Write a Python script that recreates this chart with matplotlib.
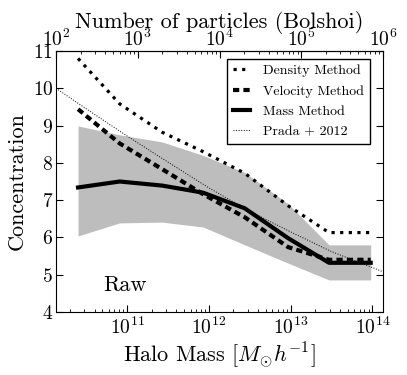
import numpy as np
import matplotlib
matplotlib.use("Agg")
import matplotlib.pyplot as plt

plt.rcParams['font.family'] = 'serif'
plt.rcParams['font.serif'] = ['cmr10', 'DejaVu Serif']
plt.rcParams['mathtext.fontset'] = 'cm'
plt.rcParams['axes.formatter.use_mathtext'] = True

# halo mass bins (log10 M / Msun h^-1)
logM = [10.40, 10.91, 11.43, 11.93, 12.44, 12.97, 13.47, 13.98]

c_density = [10.80, 9.58, 8.82, 8.30, 7.72, 6.85, 6.13, 6.13]
c_velocity = [9.44, 8.52, 7.83, 7.16, 6.54, 5.74, 5.40, 5.40]
c_mass = [7.34, 7.50, 7.39, 7.20, 6.78, 5.98, 5.32, 5.32]
c_mass_hi = [8.99, 8.75, 8.56, 8.20, 7.74, 6.90, 5.80, 5.80]
c_mass_lo = [6.04, 6.39, 6.41, 6.28, 5.80, 5.31, 4.86, 4.86]

# Prada et al. 2012 relation
logM_prada = [10.13, 10.5, 11.0, 11.5, 12.0, 12.5, 13.0, 13.5, 14.13]
c_prada = [10.0, 9.45, 8.72, 8.02, 7.33, 6.70, 6.15, 5.62, 5.08]

m_part = 1.35e8  # Bolshoi particle mass

M = 10**np.array(logM)
Mp = 10**np.array(logM_prada)

fig = plt.figure(figsize=(4.07, 3.75), dpi=100)
ax = fig.add_axes([56/407, 1-312/375, 327/407, 261/375])

ax.fill_between(M, c_mass_lo, c_mass_hi, color='#bdbdbd', lw=0)
ax.plot(M, c_density, color='k', lw=2.3, ls=(0, (1.0, 1.7)), label='Density Method')
ax.plot(M, c_velocity, color='k', lw=3, ls=(0, (1.5, 1.0)), label='Velocity Method')
ax.plot(M, c_mass, color='k', lw=3, ls='-', label='Mass Method')
ax.plot(Mp, c_prada, color='k', lw=0.7, ls=':', label='Prada + 2012')

ax.set_xscale('log')
ax.set_xlim(100*m_part, 1e6*m_part)
ax.set_ylim(4, 11)
ax.set_yticks(range(4, 12))
ax.tick_params(which='both', direction='in', labelsize=14)
ax.tick_params(which='major', length=5, right=True)
ax.tick_params(which='minor', length=2.5)
ax.tick_params(axis='y', pad=2)
ax.tick_params(axis='x', pad=3)
ax.set_xlabel(r'Halo Mass $[M_{\odot}h^{-1}]$', fontsize=16, labelpad=2)
ax.set_ylabel('Concentration', fontsize=16, labelpad=4)

top = ax.secondary_xaxis('top', functions=(lambda m: m/m_part, lambda n: n*m_part))
top.tick_params(which='both', direction='in', labelsize=14, pad=1)
top.tick_params(which='major', length=5)
top.tick_params(which='minor', length=2.5)
top.set_xlabel('Number of particles (Bolshoi)', fontsize=16, labelpad=0)

ax.text(0.211, 0.103, 'Raw', transform=ax.transAxes, fontsize=16,
        ha='center', va='center')

leg = ax.legend(loc='upper right', bbox_to_anchor=(1 - 13/327, 1 - 8/261),
                borderaxespad=0, fontsize=10, fancybox=False, framealpha=1,
                edgecolor='k', handlelength=1.2, handletextpad=1.0,
                labelspacing=0.55)
leg.get_frame().set_linewidth(1.0)

fig.savefig('out.png', dpi=100)
